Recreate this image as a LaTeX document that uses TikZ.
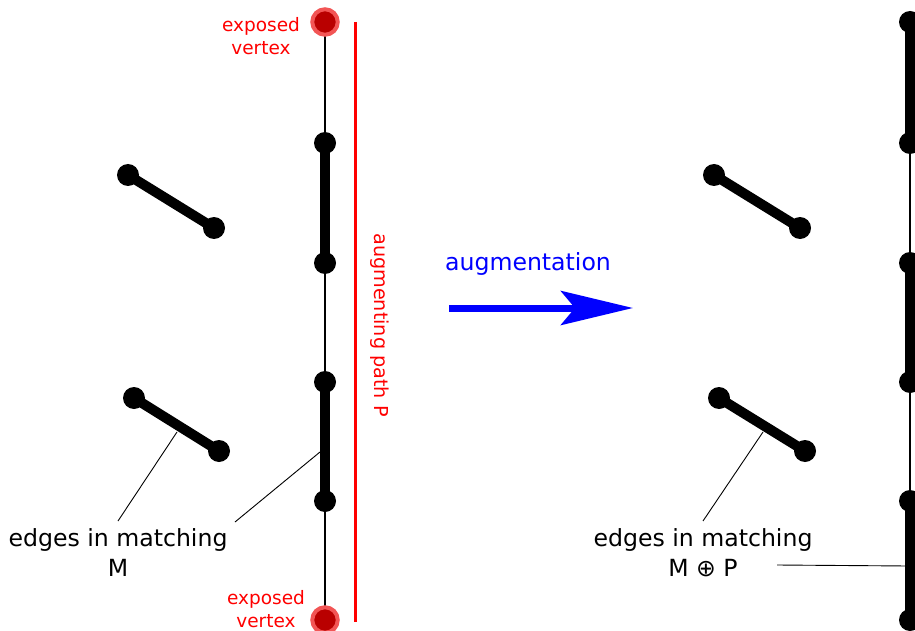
\documentclass[tikz,border=0pt]{standalone}
\usepackage{fontspec}
\setmainfont{DejaVu Sans}
\usetikzlibrary{arrows.meta}
\definecolor{exred}{RGB}{255,0,0}
\definecolor{darkred}{RGB}{185,0,0}
\definecolor{lightred}{RGB}{242,85,85}
\begin{document}
\begin{tikzpicture}[x=1pt,y=-1pt,
  vtx/.style={circle,fill=black,inner sep=0pt,minimum size=22pt},
  exvtx/.style={circle,fill=darkred,draw=lightred,line width=4pt,inner sep=0pt,minimum size=25.5pt},
  thickedge/.style={line width=10pt},
  thinedge/.style={line width=2pt},
  labelline/.style={line width=0.9pt},
  bigtext/.style={font=\fontsize{23.6}{30}\selectfont,align=center,inner sep=0pt},
  redtext/.style={font=\fontsize{18.5}{23}\selectfont,align=center,inner sep=0pt,text=exred}
]
\useasboundingbox (0,0) rectangle (915,631);
\clip (0,0) rectangle (915,631);

% ---------- left graph ----------
\coordinate (L0) at (325,22);
\coordinate (L1) at (325,143);
\coordinate (L2) at (325,263);
\coordinate (L3) at (325,382);
\coordinate (L4) at (325,501);
\coordinate (L5) at (325,620);
\draw[thinedge] (L0) -- (L1);
\draw[thickedge] (L1) -- (L2);
\draw[thinedge] (L2) -- (L3);
\draw[thickedge] (L3) -- (L4);
\draw[thinedge] (L4) -- (L5);
\node[exvtx] (l0) at (L0) {};
\node[vtx] (l1) at (L1) {};
\node[vtx] (l2) at (L2) {};
\node[vtx] (l3) at (L3) {};
\node[vtx] (l4) at (L4) {};
\node[exvtx] (l5) at (L5) {};

\node[vtx] (a1) at (128,175) {};
\node[vtx] (a2) at (214,228) {};
\node[vtx] (b1) at (134,398) {};
\node[vtx] (b2) at (219,451) {};
\draw[thickedge] (a1.center) -- (a2.center);
\draw[thickedge] (b1.center) -- (b2.center);

% red augmenting path line
\coordinate (P0) at (355,22);
\coordinate (P1) at (355,622);
\draw[exred,line width=3pt] (P0) -- (P1);
\node[font=\fontsize{19.2}{23}\selectfont,text=exred,rotate=-90,inner sep=0pt] (ptext) at (380,325) {augmenting path P};

\node[redtext] (ex1) at (261,36) {exposed\\vertex};
\node[redtext] (ex2) at (266,609) {exposed\\vertex};

% left label
\node[bigtext] (lab1) at (118,553) {edges in matching\\M};
\coordinate (c1) at (177,432);
\coordinate (c2) at (320,452);
\coordinate (s1) at (118,521);
\coordinate (s2) at (235,522);
\draw[labelline] (s1) -- (c1);
\draw[labelline] (s2) -- (c2);

% ---------- arrow ----------
\node[font=\fontsize{23.6}{28}\selectfont,text=blue,inner sep=0pt] (aug) at (528,264) {augmentation};
\coordinate (A0) at (449,308);
\coordinate (A1) at (633,308);
\draw[blue,line width=7pt,-{Stealth[length=72pt,width=34pt,inset=14pt]}] (A0) -- (A1);

% ---------- right graph ----------
\coordinate (R0) at (910,22);
\coordinate (R1) at (910,143);
\coordinate (R2) at (910,263);
\coordinate (R3) at (910,382);
\coordinate (R4) at (910,501);
\coordinate (R5) at (910,620);
\draw[thickedge] (R0) -- (R1);
\draw[thinedge] (R1) -- (R2);
\draw[thickedge] (R2) -- (R3);
\draw[thinedge] (R3) -- (R4);
\draw[thickedge] (R4) -- (R5);
\foreach \i in {0,...,5} \node[vtx] (r\i) at (R\i) {};

\node[vtx] (c1a) at (714,175) {};
\node[vtx] (c1b) at (800,228) {};
\node[vtx] (d1a) at (719,398) {};
\node[vtx] (d1b) at (805,451) {};
\draw[thickedge] (c1a.center) -- (c1b.center);
\draw[thickedge] (d1a.center) -- (d1b.center);

\node[bigtext] (lab2) at (703,553) {edges in matching\\M ⊕ P};
\coordinate (e1) at (763,432);
\coordinate (t1) at (703,521);
\coordinate (t2) at (777,565);
\coordinate (e2) at (908,566);
\draw[labelline] (t1) -- (e1);
\draw[labelline] (t2) -- (e2);
\end{tikzpicture}
\end{document}
